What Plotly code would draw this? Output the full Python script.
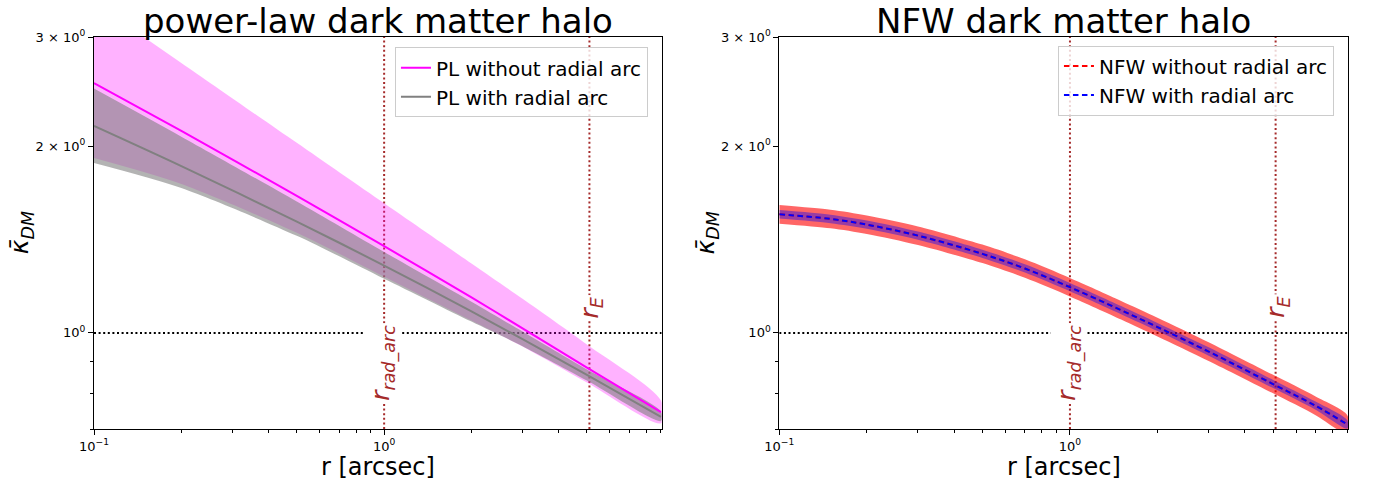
import numpy as np
import plotly.graph_objects as go

# ---------------- data ----------------
r_pl = [0.1, 0.2, 0.5, 1.0, 2.0, 3.0, 5.0, 9.0]
pl_without = [2.528, 2.117, 1.663, 1.380, 1.141, 1.017, 0.879, 0.745]
pl_without_hi = [3.41, 2.724, 2.025, 1.618, 1.294, 1.135, 0.958, 0.778]
pl_without_lo = [1.914, 1.738, 1.450, 1.232, 1.047, 0.951, 0.832, 0.715]
pl_with = [2.157, 1.858, 1.512, 1.284, 1.083, 0.977, 0.856, 0.732]
pl_with_hi = [2.477, 2.072, 1.629, 1.351, 1.123, 1.005, 0.873, 0.747]
pl_with_lo = [1.879, 1.712, 1.434, 1.223, 1.043, 0.952, 0.838, 0.721]

r_nfw = [0.1, 0.15, 0.2, 0.3, 0.5, 0.7, 1.0, 1.5, 2.0, 3.0, 5.0, 7.0, 9.0]
nfw_without = [1.553, 1.527, 1.495, 1.435, 1.341, 1.270, 1.185, 1.088, 1.022, 0.933, 0.827, 0.763, 0.712]
nfw_without_hi = [1.608, 1.580, 1.547, 1.485, 1.388, 1.314, 1.226, 1.126, 1.058, 0.966, 0.856, 0.790, 0.737]
nfw_without_lo = [1.500, 1.475, 1.444, 1.386, 1.296, 1.227, 1.145, 1.051, 0.987, 0.901, 0.799, 0.737, 0.688]
nfw_with = [1.553, 1.527, 1.495, 1.435, 1.341, 1.270, 1.185, 1.088, 1.022, 0.933, 0.827, 0.763, 0.712]
nfw_with_hi = [1.578, 1.551, 1.518, 1.457, 1.362, 1.290, 1.204, 1.105, 1.038, 0.948, 0.840, 0.775, 0.723]
nfw_with_lo = [1.529, 1.503, 1.472, 1.413, 1.321, 1.251, 1.167, 1.072, 1.007, 0.919, 0.815, 0.752, 0.701]

r_rad_arc = 1.0
r_E = 5.1
kappa_ref = 1.0

x_range = [0.1, 9.05]
y_range = [0.7, 3.0]

x_tickvals = [0.1, 1.0]
x_ticktext = ["10<sup>\u22121</sup>", "10<sup>0</sup>"]
y_tickvals = [1.0, 2.0, 3.0]
y_ticktext = ["10<sup>0</sup>", "2 \u00d7 10<sup>0</sup>", "3 \u00d7 10<sup>0</sup>"]
x_minor = [0.2, 0.3, 0.4, 0.5, 0.6, 0.7, 0.8, 0.9, 2, 3, 4, 5, 6, 7, 8, 9]
y_minor = [0.7, 0.8, 0.9]

titles = ["power-law dark matter halo", "NFW dark matter halo"]

# ---------------- figure ----------------
FONT = "DejaVu Sans"
BROWN = "#a52a2a"
DOT = "2px,2.6px"
fig = go.Figure()


def band(xs, lo, hi, color, xa, ya):
    fig.add_trace(go.Scatter(
        x=list(xs) + list(xs)[::-1], y=list(hi) + list(lo)[::-1],
        fill="toself", fillcolor=color, line=dict(width=0, shape="spline", smoothing=0.8),
        mode="lines", hoverinfo="skip", showlegend=False, xaxis=xa, yaxis=ya))


def refs(xa, ya):
    fig.add_trace(go.Scatter(x=x_range, y=[kappa_ref, kappa_ref], mode="lines",
                             line=dict(color="black", width=2, dash=DOT),
                             hoverinfo="skip", showlegend=False, xaxis=xa, yaxis=ya))
    for rv in (r_rad_arc, r_E):
        fig.add_trace(go.Scatter(x=[rv, rv], y=y_range, mode="lines",
                                 line=dict(color=BROWN, width=2, dash=DOT),
                                 hoverinfo="skip", showlegend=False, xaxis=xa, yaxis=ya))


# left panel
refs("x", "y")
band(r_pl, pl_without_lo, pl_without_hi, "rgba(255,0,255,0.3)", "x", "y")
band(r_pl, pl_with_lo, pl_with_hi, "rgba(128,128,128,0.6)", "x", "y")
fig.add_trace(go.Scatter(x=r_pl, y=pl_without, mode="lines", name="PL without radial arc",
                         line=dict(color="#ff00ff", width=2, shape="spline", smoothing=0.8),
                         xaxis="x", yaxis="y", legend="legend", legendgroup="a"))
fig.add_trace(go.Scatter(x=r_pl, y=pl_with, mode="lines", name="PL with radial arc",
                         line=dict(color="#808080", width=2, shape="spline", smoothing=0.8),
                         xaxis="x", yaxis="y", legend="legend", legendgroup="b"))

# right panel
refs("x2", "y2")
band(r_nfw, nfw_without_lo, nfw_without_hi, "rgba(255,0,0,0.6)", "x2", "y2")
band(r_nfw, nfw_with_lo, nfw_with_hi, "rgba(0,0,255,0.4)", "x2", "y2")
fig.add_trace(go.Scatter(x=r_nfw, y=nfw_without, mode="lines", name="NFW without radial arc",
                         line=dict(color="#ff0000", width=2, dash="5.5px,3.5px", shape="spline"),
                         xaxis="x2", yaxis="y2", legend="legend2", legendgroup="c"))
fig.add_trace(go.Scatter(x=r_nfw, y=nfw_with, mode="lines", name="NFW with radial arc",
                         line=dict(color="#0000ff", width=2, dash="5.5px,3.5px", shape="spline"),
                         xaxis="x2", yaxis="y2", legend="legend2", legendgroup="d"))


def xax(domain, anchor):
    return dict(domain=domain, anchor=anchor, type="log",
                range=[np.log10(x_range[0]), np.log10(x_range[1])],
                showline=True, linecolor="black", linewidth=1, mirror=True,
                ticks="outside", ticklen=5, tickcolor="black",
                tickvals=x_tickvals, ticktext=x_ticktext,
                tickfont=dict(size=13, color="black", family=FONT),
                minor=dict(ticks="outside", ticklen=3, tickcolor="black",
                           tickvals=x_minor, showgrid=False),
                showgrid=False, zeroline=False)


def yax(anchor):
    return dict(domain=[0, 1], anchor=anchor, type="log",
                range=[np.log10(y_range[0]), np.log10(y_range[1])],
                showline=True, linecolor="black", linewidth=1, mirror=True,
                ticks="outside", ticklen=5, tickcolor="black",
                tickvals=y_tickvals, ticktext=y_ticktext,
                tickfont=dict(size=13, color="black", family=FONT),
                minor=dict(ticks="outside", ticklen=3, tickcolor="black",
                           tickvals=y_minor, showgrid=False),
                showgrid=False, zeroline=False)


L_DOM = [0, 0.4527]
R_DOM = [0.5465, 1.0]

annotations = []
for dom, xr, yr, title in ((L_DOM, "x", "y", titles[0]), (R_DOM, "x2", "y2", titles[1])):
    cx = (dom[0] + dom[1]) / 2
    annotations.append(dict(text=title, x=cx, y=1.041, xref="paper", yref="paper",
                            xanchor="center", yanchor="middle", showarrow=False,
                            font=dict(size=34, color="black", family=FONT)))
    annotations.append(dict(text="r [arcsec]", x=cx, y=-0.096, xref="paper", yref="paper",
                            xanchor="center", yanchor="middle", showarrow=False,
                            font=dict(size=24, color="black", family=FONT)))
    annotations.append(dict(text="<i>\u03ba\u0304</i><sub><i>DM</i></sub>",
                            x=dom[0] - 0.058, y=0.5, xref="paper", yref="paper",
                            xanchor="center", yanchor="middle", textangle=-90, showarrow=False,
                            font=dict(size=25, color="black", family=FONT)))
    annotations.append(dict(text="<i>r</i><sub><i>rad_arc</i></sub>",
                            x=np.log10(r_rad_arc), y=-0.048, xref=xr, yref=yr, xshift=-1,
                            xanchor="center", yanchor="middle", textangle=-90, showarrow=False,
                            bgcolor="white", borderpad=1,
                            font=dict(size=25, color=BROWN, family=FONT)))
    annotations.append(dict(text="<i>r</i><sub><i>E</i></sub>",
                            x=np.log10(r_E), y=0.0415, xref=xr, yref=yr, xshift=2,
                            xanchor="center", yanchor="middle", textangle=-90, showarrow=False,
                            bgcolor="white", borderpad=1,
                            font=dict(size=25, color=BROWN, family=FONT)))

legend_style = dict(bgcolor="rgba(255,255,255,0.8)", bordercolor="#cccccc", borderwidth=1,
                    font=dict(size=20, color="black", family=FONT), tracegroupgap=0,
                    xanchor="left", yanchor="top", xref="paper", yref="paper")

fig.update_layout(
    width=1373, height=485,
    margin=dict(l=94, r=25, t=37, b=56),
    paper_bgcolor="white", plot_bgcolor="white",
    font=dict(family=FONT, color="black"),
    showlegend=True,
    xaxis=xax(L_DOM, "y"), yaxis=yax("x"),
    xaxis2=xax(R_DOM, "y2"), yaxis2=yax("x2"),
    legend=dict(x=0.240, y=0.9737, **legend_style),
    legend2=dict(x=0.7687, y=0.978, **legend_style),
    annotations=annotations,
)

fig.write_html("out.html")
